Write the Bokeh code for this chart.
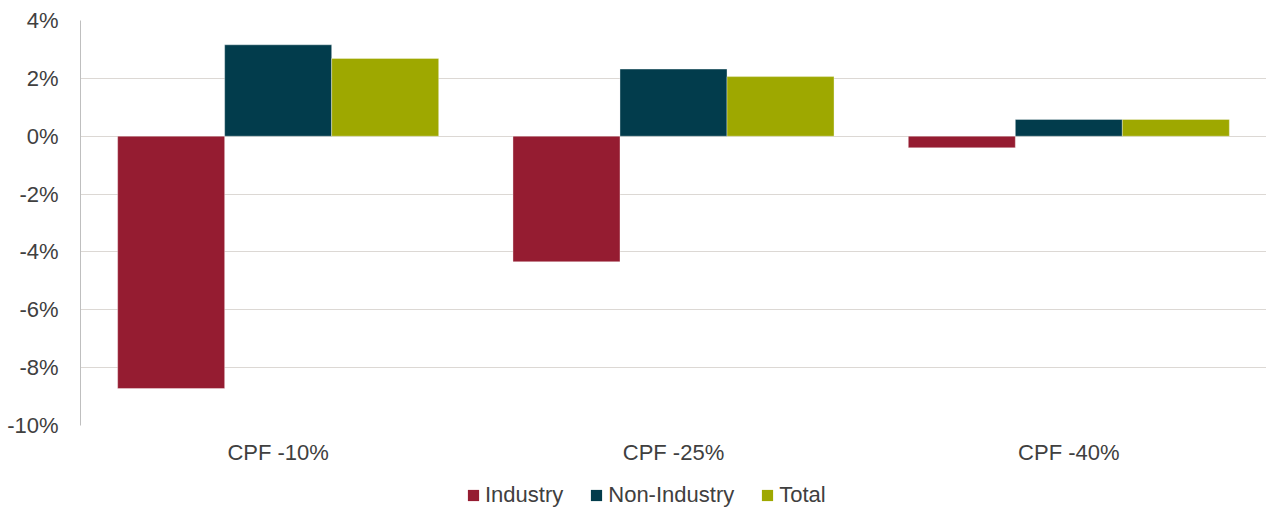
from bokeh.plotting import figure
from bokeh.layouts import column
from bokeh.models import ColumnDataSource, FixedTicker, NumeralTickFormatter, Legend, LegendItem
from bokeh.transform import dodge
from bokeh.embed import file_html
from bokeh.resources import INLINE

categories = ["CPF -10%", "CPF -25%", "CPF -40%"]
industry = [-0.0872, -0.0434, -0.0040]
non_industry = [0.0316, 0.0232, 0.0058]
total = [0.0269, 0.0206, 0.0058]
series_names = ["Industry", "Non-Industry", "Total"]
colors = ["#951c31", "#023c4c", "#9ea800"]
y_ticks = [-0.10, -0.08, -0.06, -0.04, -0.02, 0.0, 0.02, 0.04]

source = ColumnDataSource(dict(cat=categories, industry=industry,
                               non_industry=non_industry, total=total))

FONT = "Liberation Sans"
TXT = "#404040"

p = figure(x_range=categories, y_range=(-0.10, 0.04), width=1266, height=473,
           output_backend="svg", toolbar_location=None,
           min_border_left=80, min_border_right=0, min_border_top=20,
           min_border_bottom=48, outline_line_color=None)

bw = 0.2707
fields = ["industry", "non_industry", "total"]
offsets = [-bw, 0.0, bw]
for f, off, c in zip(fields, offsets, colors):
    p.vbar(x=dodge("cat", off, range=p.x_range), top=f, bottom=0, width=bw,
           source=source, fill_color=c, line_color="white", line_width=0.6,
           line_alpha=0.6)

p.yaxis.ticker = FixedTicker(ticks=y_ticks)
p.yaxis.formatter = NumeralTickFormatter(format="0%")
p.yaxis.major_tick_line_color = None
p.yaxis.minor_tick_line_color = None
p.yaxis.axis_line_color = "#bfbfbf"
p.yaxis.major_label_text_font = FONT
p.yaxis.major_label_text_font_size = "22px"
p.yaxis.major_label_text_color = TXT
p.yaxis.major_label_standoff = 16

p.xaxis.axis_line_color = None
p.xaxis.major_tick_line_color = None
p.xaxis.minor_tick_line_color = None
p.xaxis.major_label_text_font = FONT
p.xaxis.major_label_text_font_size = "22px"
p.xaxis.major_label_text_color = TXT
p.xaxis.major_label_standoff = 8

p.xgrid.grid_line_color = None
p.ygrid.grid_line_color = "#dcd8d4"
p.ygrid.grid_line_width = 1.2
p.ygrid.ticker = FixedTicker(ticks=y_ticks)

# legend strip below the chart (dummy renderers sit outside its visible range)
lf = figure(width=1266, height=35, output_backend="svg", toolbar_location=None,
            x_axis_location=None, y_axis_location=None, outline_line_color=None,
            min_border=0, x_range=(0, 1), y_range=(0, 1))
lf.grid.visible = False
items = []
for n, c in zip(series_names, colors):
    r = lf.vbar(x=[-5], top=[-5], bottom=[-6], width=0.1, fill_color=c, line_color=None)
    items.append(LegendItem(label=n, renderers=[r]))
legend = Legend(items=items, orientation="horizontal", location=(386, 0),
                label_text_font=FONT, label_text_font_size="22px", label_text_color=TXT,
                glyph_width=14, glyph_height=14, label_standoff=5, spacing=26,
                padding=0, margin=0, border_line_color=None, background_fill_alpha=0)
lf.add_layout(legend, "center")

layout = column(p, lf, spacing=0)
open("out.html", "w").write(file_html(layout, INLINE))
